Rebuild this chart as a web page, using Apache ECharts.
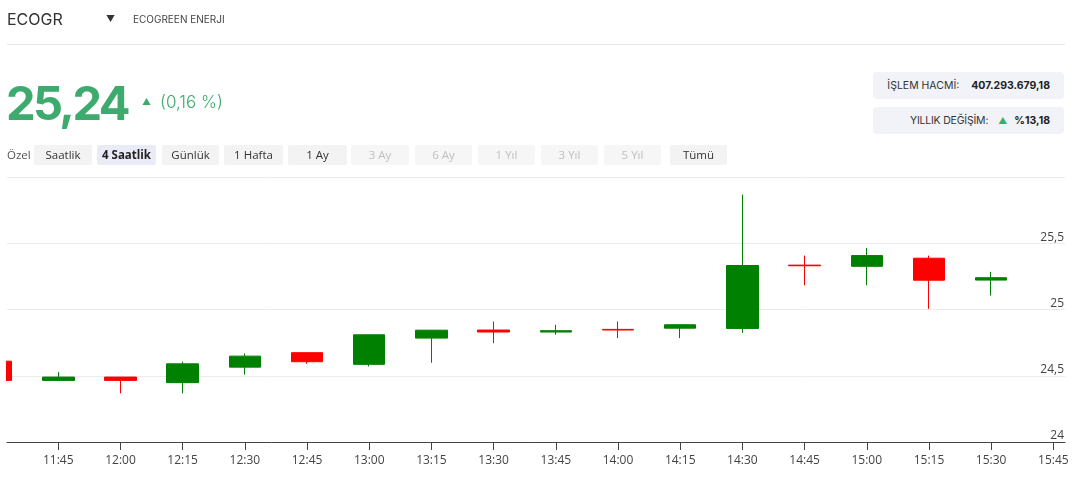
<!DOCTYPE html>
<html>
<head>
<meta charset="utf-8">
<script src="https://cdn.jsdelivr.net/npm/echarts@6/dist/echarts.min.js"></script>
<style>
  html, body { margin: 0; padding: 0; background: #fff; width: 1080px; height: 491px; overflow: hidden; }
  #chart { position: absolute; left: 6px; top: 0; width: 1074px; height: 491px; }
  .t { position: absolute; white-space: nowrap; font-family: Inter, "Noto Sans", sans-serif; }
  .btn { position: absolute; top: 145px; height: 20px; line-height: 20px; text-align: center; background: #f3f3f3; color: #333;
         font-family: "Open Sans", "Noto Sans", sans-serif; font-size: 11.5px; border-radius: 2px; }
  .btn.dis { color: #c0c0c0; background: #f6f6f6; }
  .btn.act { background: #e9ebf7; font-weight: 700; color: #222; }
  .box { position: absolute; left: 873px; width: 191px; height: 27px; background: #f1f3f8; border-radius: 4px;
         display: flex; justify-content: flex-end; align-items: center; padding-right: 14px; box-sizing: border-box;
         font-family: Inter, "Noto Sans", sans-serif; font-size: 10.5px; color: #333; }
  .box b { font-weight: 700; color: #222; margin-left: 12px; }
</style>
</head>
<body>
<div id="chart"></div>
<div class="t" style="left:7px;top:10px;font-size:16px;line-height:18px;color:#333;">ECOGR</div>
<div class="t" style="left:106px;top:14px;font-size:9px;line-height:10px;color:#333;">▼</div>
<div class="t" style="left:133px;top:14px;font-size:10px;line-height:10px;color:#444;">ECOGREEN ENERJI</div>
<div style="position:absolute;left:7px;top:44px;width:1058px;height:1px;background:#e6e6e6;"></div>
<div class="t" style="left:6px;top:79px;font-size:47px;line-height:48px;font-weight:700;color:#3daa6e;letter-spacing:-2.6px;">25,24</div>
<div class="t" style="left:142px;top:97px;font-size:9px;line-height:10px;color:#3daa6e;">▲</div>
<div class="t" style="left:160px;top:93px;font-size:17px;line-height:18px;font-weight:300;color:#3daa6e;">(0,16 %)</div>
<div class="t" style="left:7px;top:145px;font-size:11.5px;line-height:20px;color:#555;font-family:'Open Sans','Noto Sans',sans-serif;">Özel</div>
<div class="btn" style="left:34px;width:58px;">Saatlik</div>
<div class="btn act" style="left:97px;width:59px;">4 Saatlik</div>
<div class="btn" style="left:162px;width:57px;">Günlük</div>
<div class="btn" style="left:224px;width:59px;">1 Hafta</div>
<div class="btn" style="left:288px;width:59px;">1 Ay</div>
<div class="btn dis" style="left:351px;width:58px;">3 Ay</div>
<div class="btn dis" style="left:415px;width:57px;">6 Ay</div>
<div class="btn dis" style="left:478px;width:57px;">1 Yıl</div>
<div class="btn dis" style="left:541px;width:57px;">3 Yıl</div>
<div class="btn dis" style="left:604px;width:57px;">5 Yıl</div>
<div class="btn" style="left:670px;width:57px;">Tümü</div>
<div class="box" style="top:72px;">İŞLEM HACMİ:<b>407.293.679,18</b></div>
<div class="box" style="top:107px;"><span style="letter-spacing:-0.2px;">YILLIK DEĞİŞİM:</span><span style="color:#3daa6e;font-size:9px;margin-left:10px;">▲</span><b style="margin-left:7px;">%13,18</b></div>
<script>
// ---- data ----
const times = ['11:30','11:45','12:00','12:15','12:30','12:45','13:00','13:15','13:30','13:45','14:00','14:15','14:30','14:45','15:00','15:15','15:30'];
const openVals  = [24.61, 24.465, 24.49, 24.448, 24.565, 24.674, 24.586, 24.784, 24.845, 24.83, 24.85, 24.859, 24.857, 25.335, 25.326, 25.387, 25.222];
const closeVals = [24.465, 24.49, 24.465, 24.59, 24.648, 24.606, 24.809, 24.844, 24.83, 24.84, 24.845, 24.885, 25.332, 25.33, 25.407, 25.221, 25.24];
const lowVals   = [24.46, 24.465, 24.367, 24.367, 24.508, 24.591, 24.57, 24.598, 24.746, 24.81, 24.784, 24.784, 24.824, 25.183, 25.183, 25.005, 25.105];
const highVals  = [24.62, 24.527, 24.49, 24.606, 24.668, 24.674, 24.809, 24.845, 24.91, 24.885, 24.91, 24.885, 25.867, 25.407, 25.465, 25.407, 25.284];
const xTickLabels = ['11:45','12:00','12:15','12:30','12:45','13:00','13:15','13:30','13:45','14:00','14:15','14:30','14:45','15:00','15:15','15:30','15:45'];
const yTicks = [24, 24.5, 25, 25.5, 26];

function toMin(s) { const p = s.split(':'); return (+p[0]) * 60 + (+p[1]); }
function fromMin(m) { const h = Math.floor(m / 60), mm = Math.round(m - h * 60); return h + ':' + (mm < 10 ? '0' : '') + mm; }

const candleData = times.map((t, i) => [toMin(t), openVals[i], closeVals[i], lowVals[i], highVals[i]]);
const tickMins = xTickLabels.map(toMin);

const chart = echarts.init(document.getElementById('chart'), null, { renderer: 'canvas' });
chart.setOption({
  animation: false,
  backgroundColor: 'transparent',
  grid: { left: 1, right: 15, top: 177, bottom: 49, containLabel: false },
  xAxis: {
    type: 'value',
    min: 692.63,
    max: 947.81,
    axisLine: { onZero: false, lineStyle: { color: '#444', width: 1 } },
    axisTick: { show: true, customValues: tickMins, length: 8, lineStyle: { color: '#444' } },
    axisLabel: { customValues: tickMins, formatter: v => fromMin(v), color: '#444', fontSize: 12,
                 fontFamily: '"Open Sans", "Noto Sans", sans-serif', margin: 13 },
    splitLine: { show: false }
  },
  yAxis: {
    type: 'value',
    position: 'right',
    min: yTicks[0],
    max: yTicks[yTicks.length - 1],
    interval: 0.5,
    axisLine: { show: false },
    axisTick: { show: false },
    axisLabel: { inside: true, margin: 1, verticalAlign: 'bottom', showMaxLabel: false,
                 formatter: v => String(v).replace('.', ','), color: '#444', fontSize: 12,
                 fontFamily: '"Open Sans", "Noto Sans", sans-serif' },
    splitLine: { show: true, lineStyle: { color: '#ebebeb', width: 1 } }
  },
  series: [{
    type: 'candlestick',
    data: candleData,
    encode: { x: 0, y: [1, 2, 3, 4] },
    barWidth: 32,
    clip: true,
    itemStyle: { color: '#008000', color0: '#ff0000', borderColor: '#008000', borderColor0: '#ff0000', borderWidth: 1 }
  }]
});
</script>
</body>
</html>
